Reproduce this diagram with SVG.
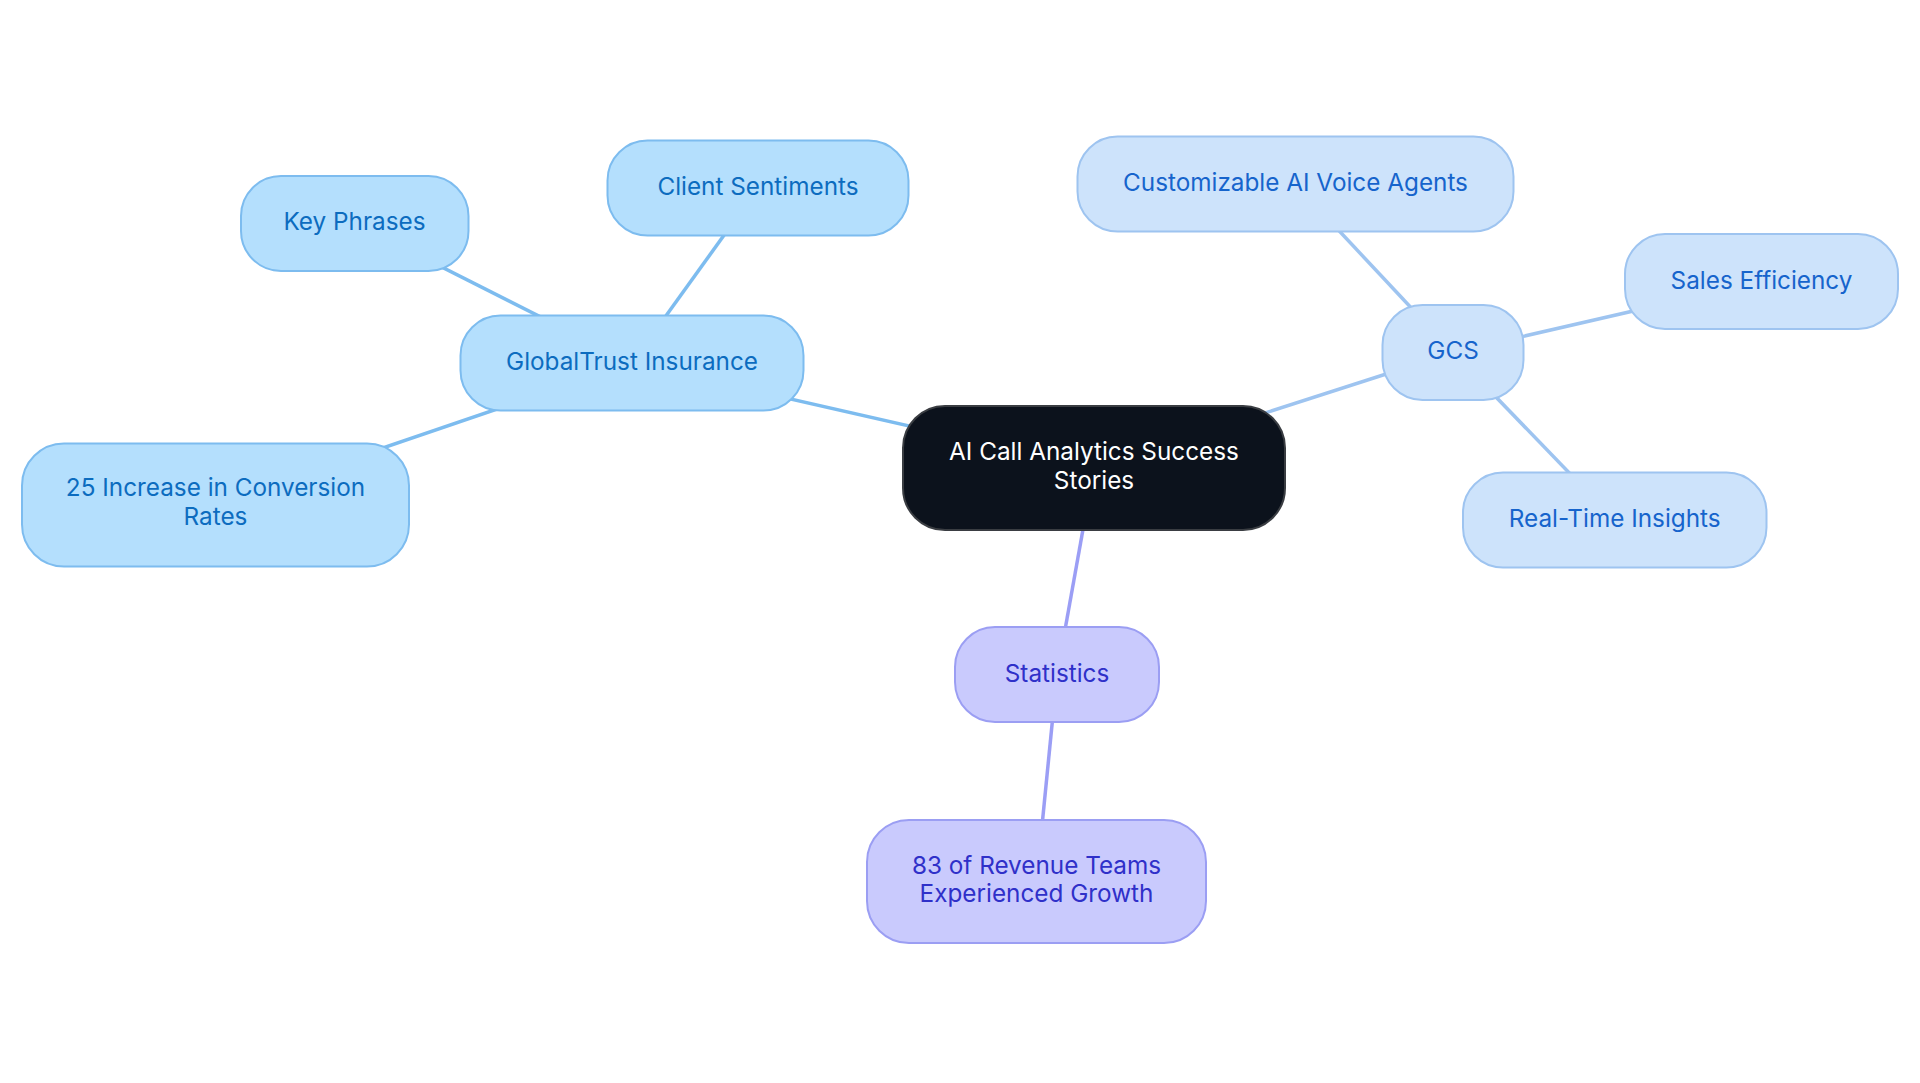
<svg xmlns="http://www.w3.org/2000/svg" width="1920" height="1083" viewBox="0 0 1920 1083">
<style>
text{font-family:Inter,"Noto Sans","Liberation Sans",sans-serif;font-size:24.3px;text-anchor:middle}
.root rect{fill:#0c121c;stroke:#3a3d42;stroke-width:2}
.root text{fill:#ffffff}
.a rect{fill:#b4dffd;stroke:#7dbcef;stroke-width:2}
.a text{fill:#0c6cbf}
.b rect{fill:#cde3fb;stroke:#9ec4f0;stroke-width:2}
.b text{fill:#1664cc}
.c rect{fill:#c9cafd;stroke:#9b9ef3;stroke-width:2}
.c text{fill:#2f30c9}
.ea{stroke:#7dbcef;stroke-width:3.5;fill:none}
.eb{stroke:#9ec4f0;stroke-width:3.5;fill:none}
.ec{stroke:#9b9ef5;stroke-width:3.5;fill:none}
</style>
<rect width="1920" height="1083" fill="#ffffff"/>
<g id="connectors">
<line class="ea" x1="1094" y1="468" x2="632" y2="363"/>
<line class="eb" x1="1094" y1="468" x2="1453" y2="352.5"/>
<line class="ec" x1="1094" y1="468" x2="1057" y2="674.5"/>
<line class="ea" x1="632" y1="363" x2="354.5" y2="223"/>
<line class="ea" x1="632" y1="363" x2="758" y2="188"/>
<line class="ea" x1="632" y1="363" x2="215.5" y2="505"/>
<line class="eb" x1="1453" y1="352.5" x2="1295.3" y2="184"/>
<line class="eb" x1="1453" y1="352.5" x2="1761.5" y2="281.5"/>
<line class="eb" x1="1453" y1="352.5" x2="1614.7" y2="520"/>
<line class="ec" x1="1057" y1="674.5" x2="1036.5" y2="881.5"/>
</g>
<g id="root" class="root">
<rect x="903" y="406" width="382" height="124" rx="42"/>
<text x="1094" y="460">AI Call Analytics Success</text>
<text x="1094" y="489">Stories</text>
</g>
<g id="globaltrust" class="a">
<rect x="460.5" y="315.5" width="343" height="95" rx="40"/>
<text x="632" y="370">GlobalTrust Insurance</text>
</g>
<g id="keyphrases" class="a">
<rect x="241" y="176" width="227.5" height="95" rx="40"/>
<text x="354.5" y="230">Key Phrases</text>
</g>
<g id="clientsentiments" class="a">
<rect x="607.5" y="140.5" width="301" height="95" rx="40"/>
<text x="758" y="195">Client Sentiments</text>
</g>
<g id="conversion" class="a">
<rect x="22" y="443.5" width="387" height="123" rx="42"/>
<text x="215.5" y="496">25 Increase in Conversion</text>
<text x="215.5" y="525">Rates</text>
</g>
<g id="gcs" class="b">
<rect x="1382.5" y="305" width="141" height="95" rx="40"/>
<text x="1453" y="359">GCS</text>
</g>
<g id="voiceagents" class="b">
<rect x="1077.5" y="136.5" width="436" height="95" rx="40"/>
<text x="1295.5" y="191">Customizable AI Voice Agents</text>
</g>
<g id="salesefficiency" class="b">
<rect x="1625" y="234" width="273" height="95" rx="40"/>
<text x="1761.5" y="288.5">Sales Efficiency</text>
</g>
<g id="realtime" class="b">
<rect x="1463" y="472.5" width="303.5" height="95" rx="40"/>
<text x="1614.7" y="527">Real-Time Insights</text>
</g>
<g id="statistics" class="c">
<rect x="955" y="627" width="204" height="95" rx="40"/>
<text x="1057" y="681.5">Statistics</text>
</g>
<g id="revenue" class="c">
<rect x="867" y="820" width="339" height="123" rx="42"/>
<text x="1036.5" y="874">83 of Revenue Teams</text>
<text x="1036.5" y="902">Experienced Growth</text>
</g>
</svg>
